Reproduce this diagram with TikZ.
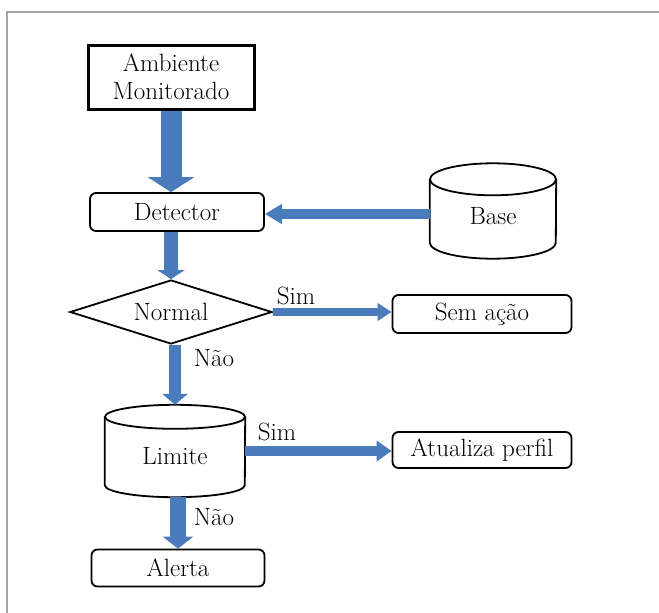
\documentclass[tikz,border=0pt]{standalone}
\usetikzlibrary{arrows.meta,shapes.geometric}

\definecolor{flowblue}{HTML}{4A7BBA}
\definecolor{framegray}{HTML}{A6A6A6}

\begin{document}
\begin{tikzpicture}[x=1pt,y=-1pt,
    every node/.style={font=\fontsize{25}{28}\selectfont},
    box/.style={draw, line width=1.8pt, rounded corners=6pt, inner sep=0pt, minimum height=38pt},
    store/.style={inner sep=0pt, text height=32pt, text depth=6pt},
    flow/.style n args={3}{draw=flowblue, line width=#1, -{Triangle[width=#2,length=#3]}}]

    % Fix the page to the size of the reference
    \useasboundingbox (0,0) rectangle (659,613);

    % Grey frame, open at the right and bottom
    \draw[framegray, line width=1.5pt] (7,613) -- (7,12) -- (659,12);

    % Main column of steps
    \node[draw, line width=3pt, minimum width=166pt, minimum height=64pt, align=center] (amb) at (171,77) {Ambiente\\Monitorado};
    \node[box, minimum width=174pt] (det) at (177,212) {Detector};
    \node[draw, line width=1.8pt, diamond, aspect=3.2, minimum width=202pt, minimum height=64pt, inner sep=0pt] (norm) at (171,312) {Normal};
    \node[store, minimum width=140pt, minimum height=92pt] (lim) at (175,451) {Limite};
    \node[box, minimum width=173pt, minimum height=37pt] (ale) at (178,568) {Alerta};

    % Store and outcomes on the right
    \node[store, minimum width=126pt, minimum height=95pt] (base) at (493,211) {Base};
    \node[box, minimum width=179pt] (sem) at (482,314) {Sem ação};
    \node[box, minimum width=179pt, minimum height=36pt] (atu) at (482,450) {Atualiza perfil};

    % Cylinders drawn round the two stores
    \draw[line width=1.8pt] ([yshift=-16pt]base.north west) -- ([yshift=16pt]base.south west)
        arc[start angle=180, end angle=360, x radius=63pt, y radius=16pt] -- ([yshift=-16pt]base.north east);
    \draw[line width=1.8pt] ([yshift=-16pt]base.north) ellipse[x radius=63pt, y radius=16pt];
    \draw[line width=1.8pt] ([yshift=-12pt]lim.north west) -- ([yshift=12pt]lim.south west)
        arc[start angle=180, end angle=360, x radius=70pt, y radius=12pt] -- ([yshift=-12pt]lim.north east);
    \draw[line width=1.8pt] ([yshift=-12pt]lim.north) ellipse[x radius=70pt, y radius=12pt];

    % Block arrows between the steps
    \draw[flow={21pt}{46pt}{15pt}] (amb.south) -- (amb.south |- det.north);
    \draw[flow={10pt}{19pt}{17pt}] ([yshift=-3pt]base.west) -- ([yshift=-3pt]base.west -| det.east);
    \draw[flow={14pt}{27pt}{9pt}] (det.south -| norm.north) -- (norm.north);
    \draw[flow={8pt}{17pt}{14pt}] (norm.east) -- (norm.east -| sem.west);
    \draw[flow={12pt}{25pt}{11pt}] (lim.north |- norm.south) -- (lim.north);
    \draw[flow={10pt}{20pt}{15pt}] (lim.east) -- (lim.east -| atu.west);
    \draw[flow={16pt}{30pt}{12pt}] (lim.south -| ale.north) -- (ale.north);

    % Answers on the arrows
    \node at (296,296) {Sim};
    \node at (214,358) {Não};
    \node at (277,432) {Sim};
    \node at (214,517) {Não};

\end{tikzpicture}
\end{document}
